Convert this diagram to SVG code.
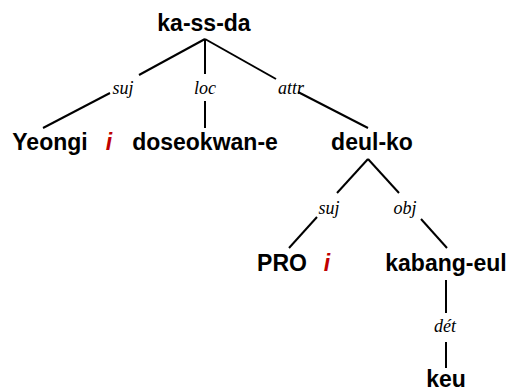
<svg xmlns="http://www.w3.org/2000/svg" width="511" height="391" viewBox="0 0 511 391">
<style>
.n{font-family:"Liberation Sans",Arial,sans-serif;font-weight:bold;font-size:23px;fill:#000;text-anchor:middle}
.idx{font-family:"Liberation Sans",Arial,sans-serif;font-weight:bold;font-style:italic;font-size:23px;fill:#c00000;text-anchor:middle}
.l{font-family:"Liberation Serif","Times New Roman",serif;font-style:italic;font-size:18px;fill:#000;text-anchor:middle}
.e line{stroke:#000;stroke-width:2;fill:none}
</style>
<rect width="511" height="391" fill="#fff"/>
<g class="e" id="connectors">
<line x1="205" y1="39" x2="139" y2="75"/>
<line x1="110" y1="93" x2="43" y2="128"/>
<line x1="205" y1="39" x2="205" y2="74"/>
<line x1="205" y1="101" x2="205" y2="128"/>
<line x1="205" y1="39" x2="276" y2="79"/>
<line x1="298" y1="92" x2="368" y2="128"/>
<line x1="368" y1="159" x2="337" y2="193"/>
<line x1="368" y1="159" x2="399" y2="193"/>
<line x1="317" y1="217" x2="289" y2="248"/>
<line x1="421" y1="219" x2="447" y2="248"/>
<line x1="446" y1="280" x2="446" y2="313"/>
<line x1="446" y1="342" x2="446" y2="368"/>
<text class="l" x="123" y="94">suj</text>
<text class="l" x="205" y="94">loc</text>
<text class="l" x="291" y="94">attr</text>
<text class="l" x="329" y="214">suj</text>
<text class="l" x="405" y="214">obj</text>
<text class="l" x="445" y="332">dét</text>
</g>
<g id="ka-ss-da"><text class="n" x="204" y="31">ka-ss-da</text></g>
<g id="Yeongi"><text class="n" x="50" y="150">Yeongi</text><text class="idx" x="109" y="150">i</text></g>
<g id="doseokwan-e"><text class="n" x="205" y="150">doseokwan-e</text></g>
<g id="deul-ko"><text class="n" x="372" y="150">deul-ko</text></g>
<g id="PRO"><text class="n" x="282" y="271">PRO</text><text class="idx" x="327" y="271">i</text></g>
<g id="kabang-eul"><text class="n" x="446" y="271">kabang-eul</text></g>
<g id="keu"><text class="n" x="446" y="387">keu</text></g>
</svg>
